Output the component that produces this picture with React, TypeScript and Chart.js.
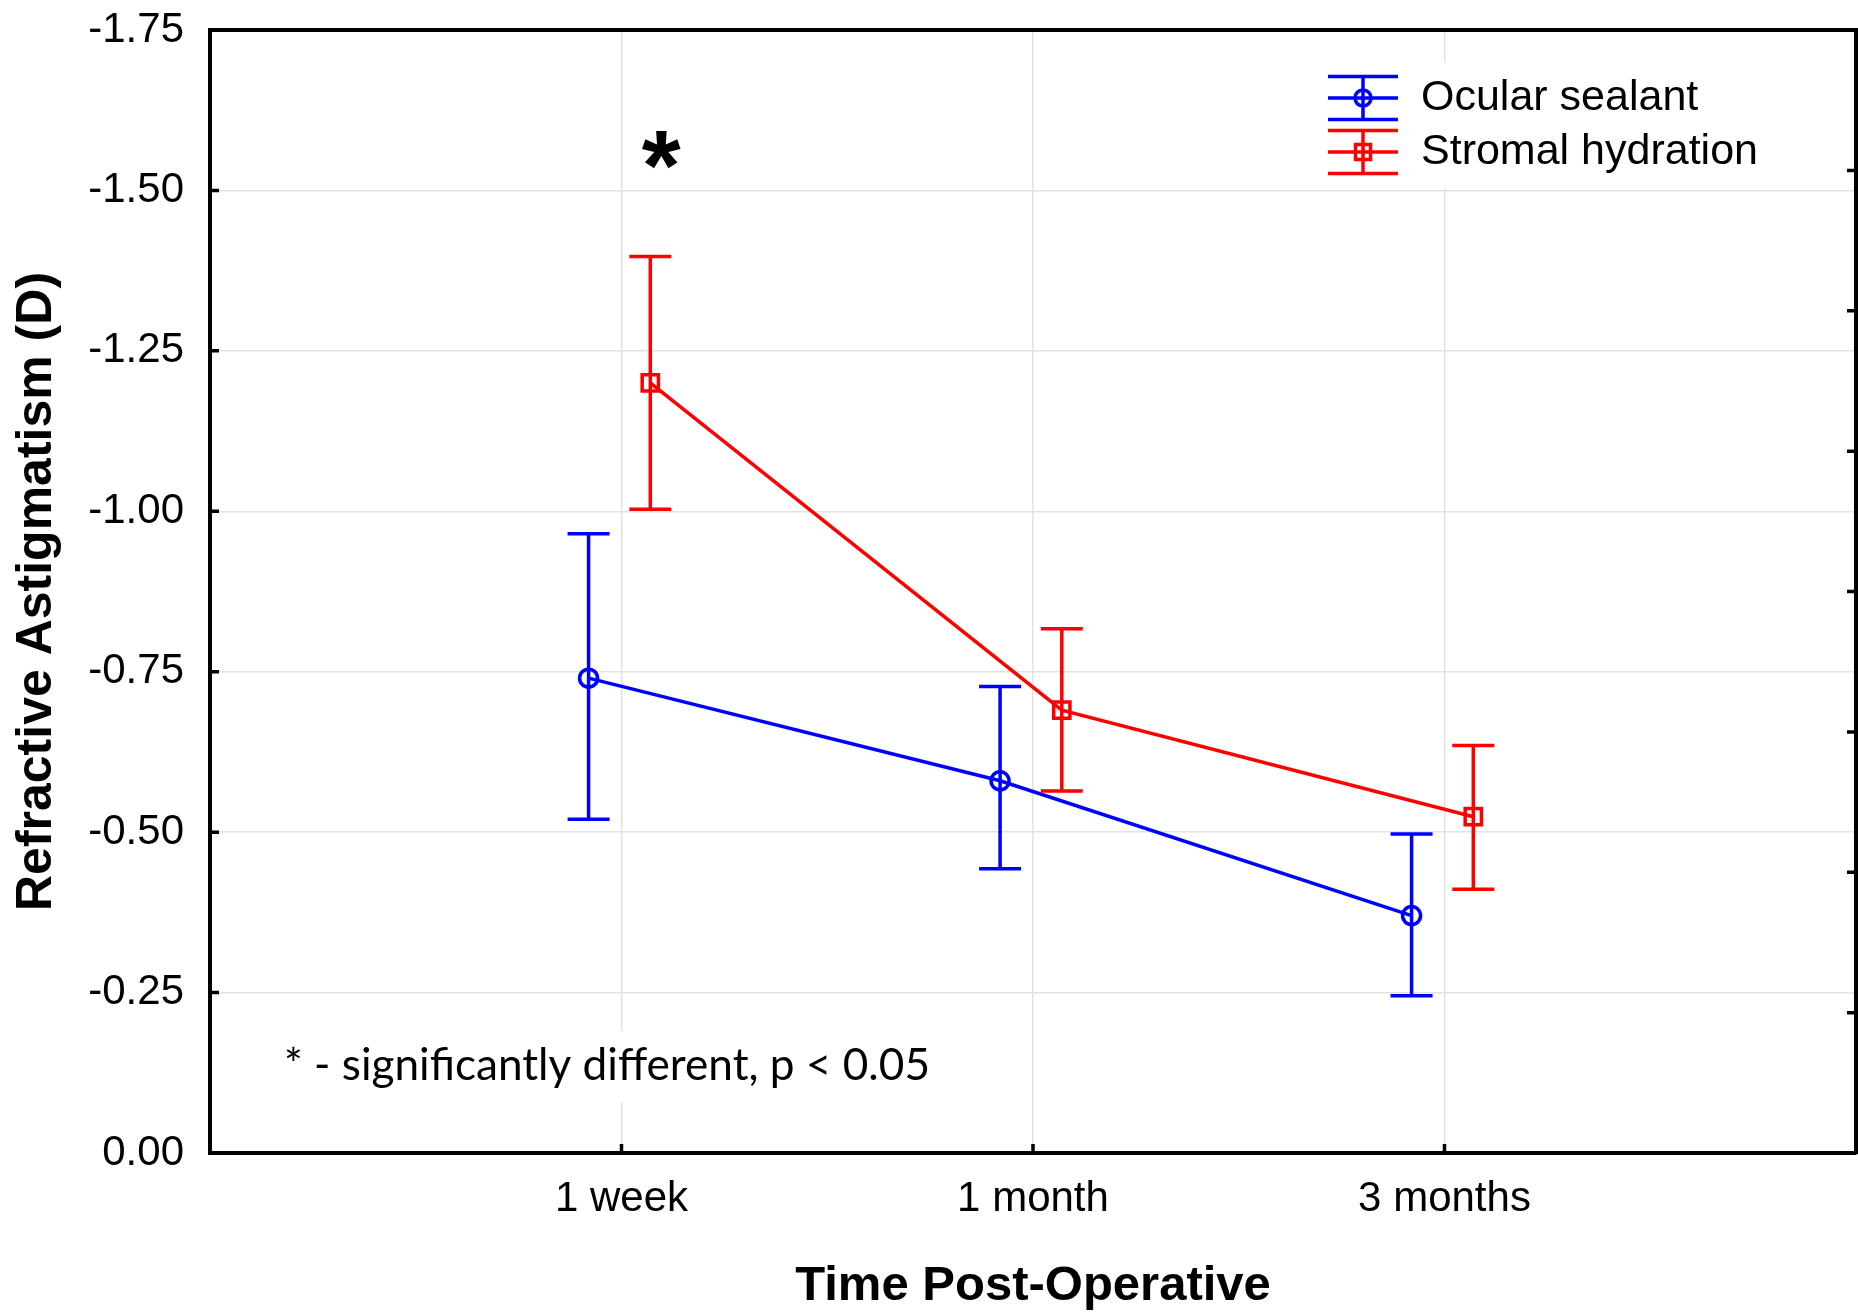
import { useEffect, useRef } from 'react';
import { Chart, registerables } from 'chart.js';

Chart.register(...registerables);

// ---- data ----
const categories = ['1 week', '1 month', '3 months'];
const categoryPositions = [1, 2, 3];

const sealantMean = [-0.74, -0.58, -0.37];
const sealantUpper = [-0.965, -0.727, -0.497];
const sealantLower = [-0.52, -0.443, -0.245];

const hydrationMean = [-1.2, -0.69, -0.524];
const hydrationUpper = [-1.397, -0.817, -0.635];
const hydrationLower = [-1.003, -0.564, -0.411];

const yMin = -1.75;
const yMax = 0;
const yStep = 0.25;

const seriesNames = ['Ocular sealant', 'Stromal hydration'];
const significanceNote = '* - significantly different, p < 0.05';
const significantIndex = 0; // 1 week

// ---- layout / style constants ----
const W = 1858;
const H = 1313;
const SEALANT_SHIFT = -0.08;
const HYDRATION_SHIFT = 0.07;
const BLUE = '#0000ff';
const RED = '#ff0000';
const GRID = '#e2e2e2';
const FONT = '"Liberation Sans", Arial, sans-serif';
const LW = 3.5;

const errorBarPlugin = {
  id: 'errorBars',
  afterDatasetsDraw(chart: any) {
    const ctx = chart.ctx;
    const xs = chart.scales.x;
    const ys = chart.scales.y;
    chart.data.datasets.forEach((ds: any) => {
      ctx.save();
      ctx.strokeStyle = ds.borderColor;
      ctx.lineWidth = LW;
      ds.data.forEach((p: any, j: number) => {
        const x = xs.getPixelForValue(p.x);
        const y1 = ys.getPixelForValue(ds.errHigh[j]);
        const y2 = ys.getPixelForValue(ds.errLow[j]);
        ctx.beginPath();
        ctx.moveTo(x, y1);
        ctx.lineTo(x, y2);
        ctx.moveTo(x - 21, y1);
        ctx.lineTo(x + 21, y1);
        ctx.moveTo(x - 21, y2);
        ctx.lineTo(x + 21, y2);
        ctx.stroke();
      });
      ctx.restore();
    });
  },
};

const decorPlugin = {
  id: 'decor',
  beforeDatasetsDraw(chart: any) {
    const ctx = chart.ctx;
    ctx.save();
    ctx.fillStyle = '#ffffff';
    ctx.fillRect(1312, 62, 474, 126);
    ctx.fillRect(272, 1031, 672, 71);
    ctx.restore();
  },
  afterDraw(chart: any) {
    const ctx = chart.ctx;
    const area = chart.chartArea;
    const xs = chart.scales.x;
    const ys = chart.scales.y;
    const y2 = chart.scales.y2;
    ctx.save();
    // inside tick marks
    ctx.strokeStyle = '#000';
    ctx.lineWidth = 3.5;
    ctx.beginPath();
    ys.ticks.forEach((t: any) => {
      if (t.value <= yMin + 1e-9 || t.value >= yMax - 1e-9) return;
      const y = ys.getPixelForValue(t.value);
      ctx.moveTo(area.left, y);
      ctx.lineTo(area.left + 9, y);
    });
    categoryPositions.forEach((c) => {
      const x = xs.getPixelForValue(c);
      ctx.moveTo(x, area.bottom);
      ctx.lineTo(x, area.bottom - 9);
    });
    y2.ticks.forEach((t: any) => {
      if (t.value <= y2.min || t.value >= y2.max) return;
      const y = y2.getPixelForValue(t.value);
      ctx.moveTo(area.right, y);
      ctx.lineTo(area.right - 9, y);
    });
    ctx.stroke();

    // legend
    const rows = [98, 152];
    const symL = 1328;
    const symR = 1398;
    const symC = (symL + symR) / 2;
    const cap = 21.5;
    const colors = [BLUE, RED];
    rows.forEach((ry, i) => {
      ctx.strokeStyle = colors[i];
      ctx.lineWidth = LW;
      ctx.beginPath();
      ctx.moveTo(symL, ry - cap);
      ctx.lineTo(symR, ry - cap);
      ctx.moveTo(symL, ry);
      ctx.lineTo(symR, ry);
      ctx.moveTo(symL, ry + cap);
      ctx.lineTo(symR, ry + cap);
      ctx.moveTo(symC, ry - cap);
      ctx.lineTo(symC, ry + cap);
      ctx.stroke();
      ctx.beginPath();
      if (i === 0) {
        ctx.arc(symC, ry, 8, 0, Math.PI * 2);
      } else {
        ctx.rect(symC - 7.5, ry - 7.5, 15, 15);
      }
      ctx.stroke();
      ctx.fillStyle = '#000';
      ctx.font = `43px ${FONT}`;
      ctx.textAlign = 'left';
      ctx.textBaseline = 'middle';
      ctx.fillText(seriesNames[i], 1421, ry);
    });

    // significance star above 1 week
    ctx.font = `bold 100px ${FONT}`;
    ctx.textAlign = 'center';
    ctx.textBaseline = 'alphabetic';
    const m = ctx.measureText('*');
    const sx = xs.getPixelForValue(categoryPositions[significantIndex] + HYDRATION_SHIFT) + 11;
    const baseline = 150 + (m.actualBoundingBoxAscent - m.actualBoundingBoxDescent) / 2;
    ctx.fillStyle = '#000';
    ctx.fillText('*', sx, baseline);

    // footnote
    ctx.font = `44px Lato, ${FONT}`;
    ctx.textAlign = 'left';
    ctx.textBaseline = 'alphabetic';
    const w = ctx.measureText(significanceNote).width;
    const scaleX = 646 / w;
    ctx.translate(284, 1080);
    ctx.scale(scaleX, 1);
    ctx.fillText(significanceNote, 0, 0);
    ctx.restore();
  },
};

const noPadV = (s: any) => {
  s.paddingTop = 0;
  s.paddingBottom = 0;
};
const noPadH = (s: any) => {
  s.paddingLeft = 0;
  s.paddingRight = 0;
};

export default function App() {
  const ref = useRef<HTMLCanvasElement | null>(null);

  useEffect(() => {
    if (!ref.current) return;
    const chart = new Chart(ref.current, {
      type: 'line',
      data: {
        datasets: [
          {
            label: seriesNames[0],
            data: sealantMean.map((v, i) => ({ x: categoryPositions[i] + SEALANT_SHIFT, y: v })),
            errHigh: sealantUpper,
            errLow: sealantLower,
            borderColor: BLUE,
            borderWidth: LW,
            pointStyle: 'circle',
            pointRadius: 9,
            pointBorderWidth: LW,
            pointBorderColor: BLUE,
            pointBackgroundColor: 'rgba(0,0,0,0)',
            tension: 0,
          } as any,
          {
            label: seriesNames[1],
            data: hydrationMean.map((v, i) => ({ x: categoryPositions[i] + HYDRATION_SHIFT, y: v })),
            errHigh: hydrationUpper,
            errLow: hydrationLower,
            borderColor: RED,
            borderWidth: LW,
            pointStyle: 'rect',
            pointRadius: 11.5,
            pointBorderWidth: LW,
            pointBorderColor: RED,
            pointBackgroundColor: 'rgba(0,0,0,0)',
            tension: 0,
          } as any,
        ],
      },
      options: {
        responsive: false,
        animation: false,
        devicePixelRatio: 1,
        layout: { padding: 0, autoPadding: false },
        plugins: {
          legend: { display: false },
          tooltip: { enabled: false },
        },
        scales: {
          x: {
            type: 'linear',
            position: 'bottom',
            min: 0,
            max: 4,
            afterFit: (s: any) => {
              s.height = 160;
              noPadH(s);
            },
            ticks: {
              stepSize: 1,
              autoSkip: false,
              maxRotation: 0,
              padding: 21,
              color: '#000',
              font: { family: FONT, size: 42 },
              callback: (v: any) => {
                const idx = categoryPositions.indexOf(Number(v));
                return idx >= 0 ? categories[idx] : '';
              },
            },
            grid: {
              drawTicks: false,
              lineWidth: 1.5,
              color: (c: any) =>
                c.tick && categoryPositions.includes(c.tick.value) ? GRID : 'rgba(0,0,0,0)',
            },
            border: { display: true, color: '#000', width: 4 },
            title: {
              display: true,
              text: 'Time Post-Operative',
              color: '#000',
              font: { family: FONT, size: 49, weight: 'bold', lineHeight: 1.1 },
              padding: { top: 0, bottom: 0 },
            },
          },
          x2: {
            type: 'linear',
            position: 'top',
            min: 0,
            max: 4,
            afterFit: (s: any) => {
              s.height = 30;
              noPadH(s);
            },
            ticks: { display: false },
            grid: { display: false, drawTicks: false },
            border: { display: true, color: '#000', width: 4 },
          },
          y: {
            type: 'linear',
            position: 'left',
            min: yMin,
            max: yMax,
            reverse: true,
            afterFit: (s: any) => {
              s.width = 210;
              noPadV(s);
            },
            ticks: {
              stepSize: yStep,
              padding: 26,
              color: '#000',
              font: { family: FONT, size: 42 },
              callback: (v: any) => Number(v).toFixed(2),
            },
            grid: { drawTicks: false, lineWidth: 1.5, color: GRID },
            border: { display: true, color: '#000', width: 4 },
            title: {
              display: true,
              text: 'Refractive Astigmatism (D)',
              color: '#000',
              font: { family: FONT, size: 50, weight: 'bold', lineHeight: 1.15 },
              padding: { top: 8, bottom: 0 },
            },
          },
          y2: {
            type: 'linear',
            position: 'right',
            min: 0,
            max: 8,
            afterFit: (s: any) => {
              s.width = 2;
              noPadV(s);
            },
            ticks: { display: false, stepSize: 1 },
            grid: { display: false, drawTicks: false },
            border: { display: true, color: '#000', width: 4 },
          },
        },
      } as any,
      plugins: [errorBarPlugin, decorPlugin],
    });
    return () => chart.destroy();
  }, []);

  return (
    <div style={{ position: 'absolute', left: 0, top: 0, width: W, height: H, background: '#fff' }}>
      <canvas ref={ref} width={W} height={H} style={{ display: 'block' }} />
    </div>
  );
}
